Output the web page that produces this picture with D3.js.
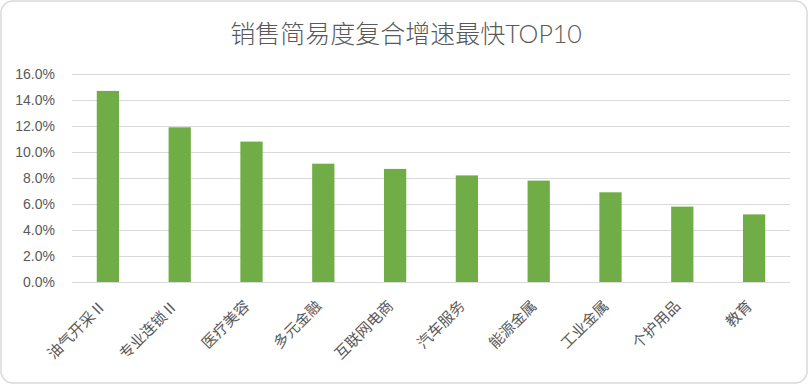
<html>
<head>
<meta charset="utf-8">
<script src="https://d3js.org/d3.v7.min.js"></script>
<style>
    body { margin: 0; background: #fff; }
    svg { font-family: "Lato", "Noto Sans CJK SC", sans-serif; }
    .grid line { stroke: #d9d9d9; stroke-width: 1px; }
    .grid path { display: none; }
    .tick text { fill: #595959; font-size: 14px; }
</style>
</head>
<body>
<script>
    var categories = ["油气开采Ⅱ", "专业连锁Ⅱ", "医疗美容", "多元金融", "互联网电商", "汽车服务", "能源金属", "工业金属", "个护用品", "教育"];
    var growth = [14.7, 11.9, 10.8, 9.1, 8.7, 8.2, 7.8, 6.9, 5.8, 5.2];
    var yTicks = [0, 2, 4, 6, 8, 10, 12, 14, 16];
    var title = "销售简易度复合增速最快TOP10";

    var W = 812, H = 387;
    var m = {left: 72, right: 22, top: 74, bottom: 105};

    var svg = d3.select("body").append("svg").attr("width", W).attr("height", H);

    svg.append("rect")
        .attr("x", 1).attr("y", 1)
        .attr("width", W - 6).attr("height", H - 5)
        .attr("rx", 12).attr("ry", 12)
        .attr("fill", "#fff")
        .attr("stroke", "#d9d9d9")
        .attr("stroke-width", 1.5);

    svg.append("text")
        .attr("x", 406).attr("y", 43)
        .attr("text-anchor", "middle")
        .attr("fill", "#595959")
        .style("font-size", "25px")
        .style("font-weight", 300)
        .text(title);

    var x = d3.scaleBand().domain(categories).range([m.left, W - m.right]).paddingInner(0.69).paddingOuter(0.345);
    var y = d3.scaleLinear().domain([0, 16]).range([H - m.bottom, m.top]);

    var g = svg.append("g");

    g.append("g")
        .attr("class", "grid")
        .attr("transform", "translate(" + m.left + ",0)")
        .call(d3.axisLeft(y).tickValues(yTicks).tickSize(-(W - m.right - m.left)).tickPadding(17)
            .tickFormat(function (d) { return d.toFixed(1) + "%"; }));

    g.selectAll(".bar")
        .data(growth)
        .enter()
        .append("rect")
        .attr("class", "bar")
        .attr("x", function (d, i) { return x(categories[i]); })
        .attr("width", x.bandwidth())
        .attr("y", function (d) { return y(d); })
        .attr("height", function (d) { return y(0) - y(d); })
        .attr("fill", "#70ad47");

    g.selectAll(".xlab")
        .data(categories)
        .enter()
        .append("text")
        .attr("class", "xlab")
        .attr("text-anchor", "end")
        .attr("fill", "#595959")
        .style("font-size", "15px")
        .attr("transform", function (d) {
            var cx = x(d) + x.bandwidth() / 2 - 1;
            return "translate(" + cx + "," + (y(0) + 25) + ") rotate(-45)";
        })
        .text(function (d) { return d; });
</script>
</body>
</html>
